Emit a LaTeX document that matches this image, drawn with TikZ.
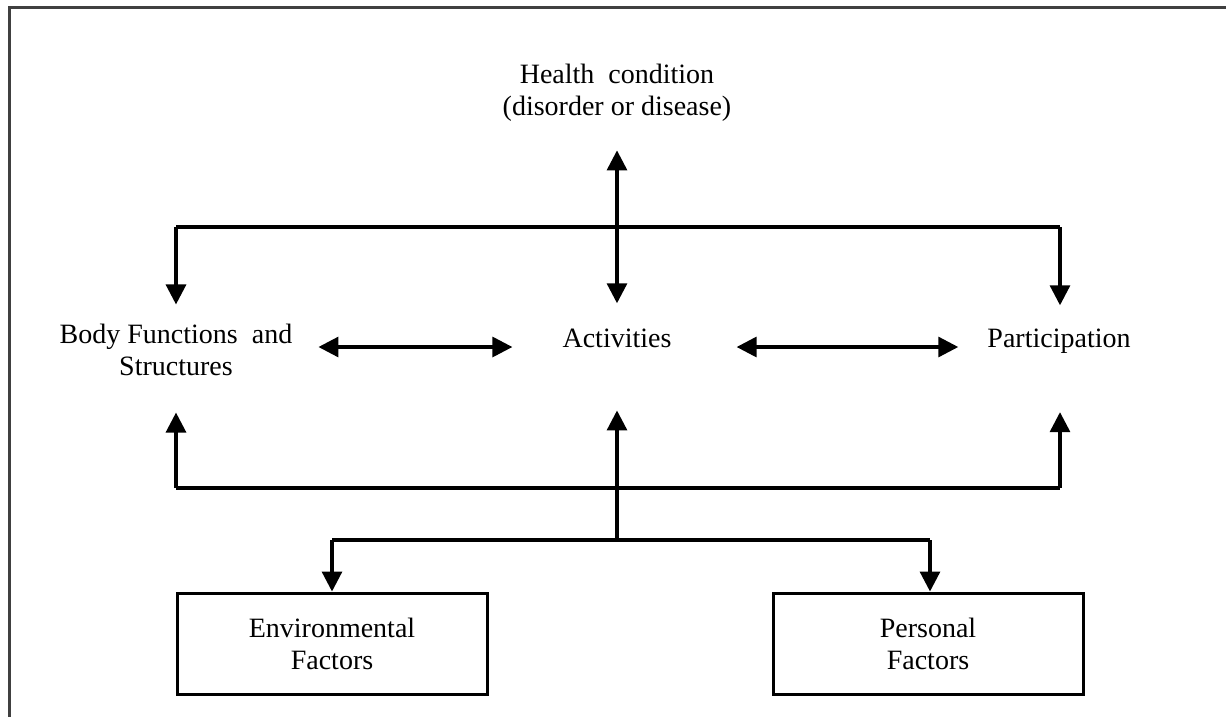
\documentclass[tikz,border=0pt]{standalone}
\usepackage{fontspec}
\setmainfont{Liberation Serif}
\usetikzlibrary{arrows.meta}
\begin{document}
\begin{tikzpicture}[x=1pt,y=-1pt,
  txt/.style={inner sep=0pt, align=center, font=\fontsize{28}{32}\selectfont},
  boxnode/.style={txt, draw, line width=3pt, minimum width=310pt, minimum height=101pt},
  conn/.style={line width=3.2pt},
  arr/.style={conn, -{Triangle[length=20pt,width=20pt]}},
  darr/.style={conn, {Triangle[length=20pt,width=20pt]}-{Triangle[length=20pt,width=20pt]}}
]
\useasboundingbox (0,0) rectangle (1226,716);
% frame
\draw[line width=3pt, black!75] (9.5,718) -- (9.5,7.5) -- (1228,7.5);

% nodes
\node[txt] (health) at (617,92.5) {Health\ \ condition\\(disorder or disease)};
\node[txt] (body) at (176,349.5) {Body Functions\ \ and\\Structures};
\node[txt, anchor=base] (act) at (617,347) {Activities};
\node[txt, anchor=base] (part) at (1059,347) {Participation};
\node[boxnode] (env) at (332,643.5) {Environmental\\Factors};
\node[boxnode] (pers) at (928,643.5) {Personal\\Factors};

% junction coordinates
\coordinate (tl) at (176,227);
\coordinate (tr) at (1060,227);
\coordinate (bl) at (176,488);
\coordinate (br) at (1060,488);
\coordinate (fm) at (617,540);
\coordinate (fl) at (332,540);
\coordinate (fr) at (930,540);

% health <-> activities
\draw[darr, shorten <=29pt, shorten >=25pt] (health.south) -- (act.north);
% top bracket
\draw[conn] (tl) -- (tr);
\draw[arr, shorten >=19pt] (tl) -- (tl |- body.north);
\draw[arr, shorten >=23pt] (tr) -- (tr |- part.north);
% horizontal
\draw[darr, shorten <=50pt, shorten >=26pt] (act.base west) -- (act.base west -| body.east);
\draw[darr, shorten <=65pt, shorten >=29pt] (act.base east) -- (part.base west);
% bottom bracket
\draw[conn] (bl) -- (br);
\draw[arr, shorten >=37pt] (bl) -- (bl |- body.south);
\draw[arr, shorten >=59pt] (br) -- (br |- part.south);
\draw[arr, shorten >=63pt] (fm) -- (act.south);
% factors
\draw[conn] (fl) -- (fr);
\draw[arr] (fl) -- (env.north -| fl);
\draw[arr] (fr) -- (pers.north -| fr);
\end{tikzpicture}
\end{document}
